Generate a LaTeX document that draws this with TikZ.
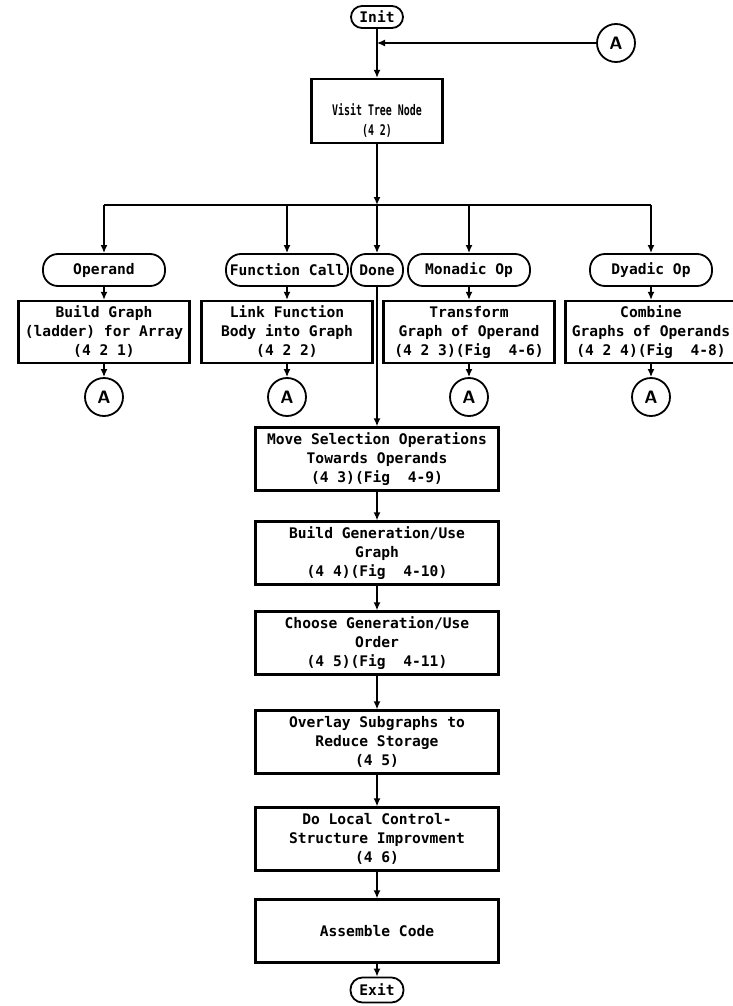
\documentclass[tikz,border=0pt]{standalone}
\usepackage{fontspec}
\setmonofont{DejaVu Sans Mono}
\newfontfamily\narrowtt[FakeStretch=0.68]{DejaVu Sans Mono}
\usetikzlibrary{arrows.meta}

\begin{document}
\begin{tikzpicture}[x=0.5pt,y=-0.5pt,
  font=\ttfamily\bfseries\fontsize{7.3}{9.5}\selectfont,
  box/.style={draw,line width=1.1pt,minimum width=85.5pt,minimum height=31pt,align=center,inner sep=1pt},
  mainbox/.style={box,minimum width=121.5pt,minimum height=31.5pt},
  term/.style={draw,line width=0.9pt,rounded corners=7.5pt,minimum width=61pt,minimum height=16pt,inner sep=1pt},
  conn/.style={draw,circle,line width=0.9pt,minimum size=19pt,inner sep=0pt,font=\sffamily\bfseries\small},
  flow/.style={line width=1.1pt,-{Latex[length=4pt,width=3.5pt]}},
  hflow/.style={line width=0.6pt}]
\useasboundingbox (0,0) rectangle (733,1006);

\node[term,minimum width=26pt,minimum height=11pt,rounded corners=5.5pt] (init) at (377,17) {Init};
\node[conn] (atop) at (616,43) {A};
\coordinate (joina) at (377,43);
\node[box,minimum width=65.5pt,minimum height=32pt,font=\narrowtt\bfseries\fontsize{7.3}{10}\selectfont] (visit) at (377,111) {\rule{0pt}{15pt}Visit Tree Node\\(4 2)};
\coordinate (split) at (377,205);

\node[term] (opd) at (104,270) {Operand};
\node[term] (fcall) at (287,270) {Function Call};
\node[term,minimum width=26pt] (done) at (377,270) {Done};
\node[term] (mono) at (469,270) {Monadic Op};
\node[term] (dyad) at (651,270) {Dyadic Op};

\node[box] (bgraph) at (104,332) {Build Graph\\(ladder) for Array\\(4 2 1)};
\node[box] (link) at (287,332) {Link Function\\Body into Graph\\(4 2 2)};
\node[box] (trans) at (469,332) {Transform\\Graph of Operand\\(4 2 3)(Fig~~4-6)};
\node[box] (comb) at (651,332) {Combine\\Graphs of Operands\\(4 2 4)(Fig~~4-8)};

\node[conn] (aopd) at (104,397) {A};
\node[conn] (afcall) at (287,397) {A};
\node[conn] (amono) at (469,397) {A};
\node[conn] (adyad) at (651,397) {A};

\node[mainbox] (move) at (377,459) {Move Selection Operations\\Towards Operands\\(4 3)(Fig~~4-9)};
\node[mainbox] (build) at (377,553) {Build Generation/Use\\Graph\\(4 4)(Fig~~4-10)};
\node[mainbox] (choose) at (377,643) {Choose Generation/Use\\Order\\(4 5)(Fig~~4-11)};
\node[mainbox] (overlay) at (377,742) {Overlay Subgraphs to\\Reduce Storage\\(4 5)};
\node[mainbox] (local) at (377,839) {Do Local Control-\\Structure Improvment\\(4 6)};
\node[mainbox] (asm) at (377,931) {Assemble Code};
\node[term,minimum width=26.5pt,minimum height=12.5pt,rounded corners=6pt] (exit) at (377,990) {Exit};

\draw[flow] (init) -- (visit);
\draw[hflow,-{Latex[length=4pt,width=3.5pt]}] (atop) -- (joina);
\draw[flow] (visit) -- (split);
\draw[hflow] (opd.north |- split) -- (dyad.north |- split);
\foreach \n in {opd,fcall,done,mono,dyad}
  \draw[flow] (\n.north |- split) -- (\n.north);
\foreach \a/\b in {opd/bgraph,fcall/link,mono/trans,dyad/comb,bgraph/aopd,link/afcall,trans/amono,comb/adyad}
  \draw[flow] (\a) -- (\b);
\foreach \a/\b in {done/move,move/build,build/choose,choose/overlay,overlay/local,local/asm,asm/exit}
  \draw[flow] (\a) -- (\b);
\end{tikzpicture}
\end{document}
